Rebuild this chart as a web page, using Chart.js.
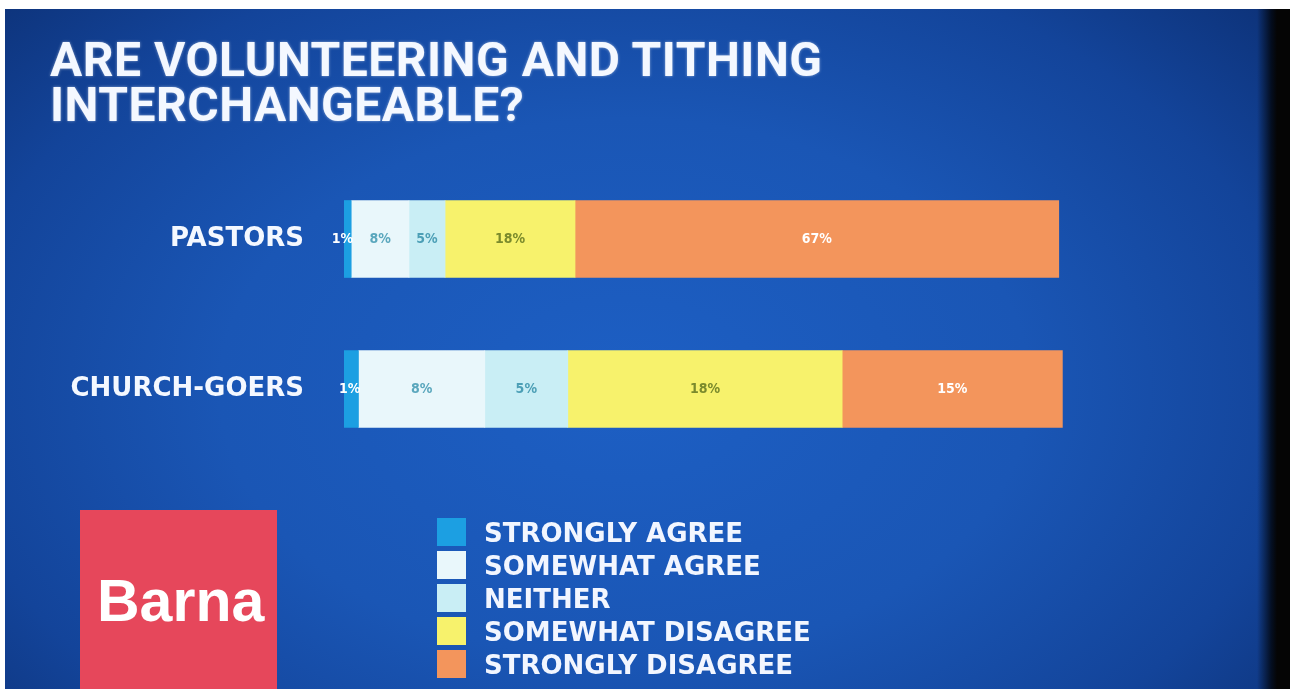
<!DOCTYPE html>
<html>
<head>
<meta charset="utf-8">
<script src="https://cdn.jsdelivr.net/npm/chart.js@4.4.1/dist/chart.umd.min.js"></script>
<style>
    html, body { margin: 0; padding: 0; background: #ffffff; }
    #screen {
        position: absolute; left: 5px; top: 9px; width: 1285px; height: 680px; overflow: hidden;
        background:
            linear-gradient(to right, rgba(0,0,0,0) 1252px, rgba(0,0,0,0.75) 1266px, #050505 1272px),
            radial-gradient(ellipse 900px 600px at 620px 380px, #1d5fc4 0%, #1a56b5 45%, #13449a 75%, #0c2f73 100%);
    }
    #chart-wrap { position: absolute; left: 0; top: 0; width: 1290px; height: 689px; }
    #title {
        position: absolute; left: 50px; top: 37px; margin: 0;
        font: bold 48px Roboto, sans-serif; line-height: 45px; color: #f4f8ff; letter-spacing: 0.5px;
        text-shadow: 0 0 3px rgba(255,255,255,0.5);
    }
    #logo {
        position: absolute; left: 80px; top: 510px; width: 197px; height: 190px; background: #e6475b;
    }
    #logo span {
        position: absolute; left: 17px; top: 57px;
        font: bold 59px "Liberation Sans", sans-serif; color: #ffffff;
    }
    #legend { position: absolute; left: 437px; top: 518px; }
    .row { position: relative; height: 33px; }
    .sw { position: absolute; left: 0; top: 0; width: 29px; height: 28px; }
    .txt {
        position: absolute; left: 47px; top: 0; line-height: 28px; white-space: nowrap;
        font: bold 26px "DejaVu Sans", sans-serif; color: #f2f6ff;
    }
</style>
</head>
<body>
<div id="screen"></div>
<div id="chart-wrap"><canvas id="chart"></canvas></div>
<h1 id="title">ARE VOLUNTEERING AND TITHING<br>INTERCHANGEABLE?</h1>
<div id="logo"><span>Barna</span></div>
<div id="legend"></div>
<script>
const categories = ["PASTORS", "CHURCH-GOERS"];
const seriesNames = ["STRONGLY AGREE", "SOMEWHAT AGREE", "NEITHER", "SOMEWHAT DISAGREE", "STRONGLY DISAGREE"];
const pastorsValues = [1, 8, 5, 18, 67];
const churchValues = [2, 17.5, 11.5, 38, 30.5];
// the labels printed on the slide (church-goers ones don't match the bar lengths)
const pastorsLabels = ["1%", "8%", "5%", "18%", "67%"];
const churchLabels = ["1%", "8%", "5%", "18%", "15%"];
const seriesColors = ["#1c9fe2", "#e9f7fb", "#c9eef5", "#f7f26c", "#f3955c"];
const labelColors = ["#ffffff", "#5aa7bd", "#4c9fb6", "#7a8a2c", "#ffffff"];

const legend = document.getElementById("legend");
seriesNames.forEach(function (name, i) {
    const row = document.createElement("div");
    row.className = "row";
    row.innerHTML = '<div class="sw" style="background:' + seriesColors[i] + '"></div><div class="txt">' + name + '</div>';
    legend.appendChild(row);
});

const labelPlugin = {
    id: "barLabels",
    afterDatasetsDraw(chart) {
        const ctx = chart.ctx;
        const labels = [pastorsLabels, churchLabels];
        ctx.save();
        ctx.font = 'bold 14px "DejaVu Sans Condensed", sans-serif';
        ctx.textBaseline = "middle";
        chart.data.datasets.forEach(function (ds, i) {
            chart.getDatasetMeta(i).data.forEach(function (bar, j) {
                ctx.fillStyle = labelColors[i];
                if (i === 0) {
                    ctx.textAlign = "right";
                    ctx.fillText(labels[j][i], bar.x + 2, bar.y);
                } else {
                    ctx.textAlign = "center";
                    ctx.fillText(labels[j][i], (bar.base + bar.x) / 2, bar.y);
                }
            });
        });
        ctx.restore();
    }
};

const ctx = document.getElementById("chart").getContext("2d");
new Chart(ctx, {
    type: "bar",
    data: {
        labels: categories,
        datasets: seriesNames.map(function (name, i) {
            return {
                label: name,
                data: [pastorsValues[i], churchValues[i]],
                backgroundColor: seriesColors[i],
                borderWidth: 0,
                barThickness: 77,
            };
        }),
    },
    options: {
        indexAxis: "y",
        responsive: true,
        maintainAspectRatio: false,
        animation: false,
        layout: { padding: { left: 0, right: 224, top: 164, bottom: 225 } },
        plugins: {
            legend: { display: false },
            tooltip: { enabled: false },
        },
        scales: {
            x: { stacked: true, min: 0, max: 100, display: false },
            y: {
                stacked: true,
                grid: { display: false },
                border: { display: false },
                afterFit: function (scale) { scale.width = 344; },
                ticks: {
                    padding: 32,
                    color: "#f4f8ff",
                    font: { family: "DejaVu Sans", weight: "bold", size: 26 },
                },
            },
        },
    },
    plugins: [labelPlugin],
});
</script>
</body>
</html>
